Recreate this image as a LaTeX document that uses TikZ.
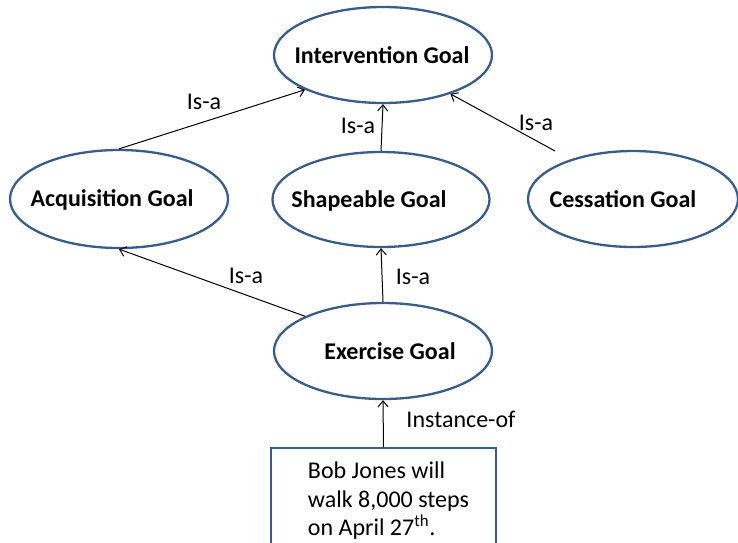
\documentclass[tikz,border=0pt]{standalone}
\usepackage{fontspec}
\setmainfont{Carlito}
\usetikzlibrary{shapes.geometric,arrows.meta}
\definecolor{edgeblue}{RGB}{56,93,138}
\newcommand{\etext}[3]{\makebox[0pt]{\hspace*{#1}\hspace*{#1}\raisebox{-#2}[0pt][0pt]{#3}}}
\tikzset{
  goal/.style={ellipse, draw=edgeblue, line width=2.3pt, inner sep=0pt,
    minimum width=218pt, minimum height=96pt, font=\fontsize{24}{28.5}\selectfont\bfseries},
  infobox/.style={rectangle, draw=edgeblue, line width=2.3pt, align=left,
    minimum width=225pt, inner ysep=14pt, font=\fontsize{24}{28.5}\selectfont},
  conn/.style={draw=black, line width=1pt, -{Straight Barb[length=6pt,width=10pt]}},
  lbl/.style={anchor=base, inner sep=0pt, font=\fontsize{24}{28.5}\selectfont}
}
\begin{document}
\begin{tikzpicture}[x=1pt,y=-1pt]
\useasboundingbox (0,0) rectangle (738,542);
\clip (0,0) rectangle (738,542);
\node[goal] (int) at (383,55) {\etext{-1pt}{8pt}{Intervention Goal}};
\node[goal, minimum height=98pt] (acq) at (119,199) {\etext{-7pt}{7pt}{Acquisition Goal}};
\node[goal, minimum width=217pt, minimum height=95pt] (sha) at (381,199.5) {\etext{-12pt}{7.5pt}{Shapeable Goal}};
\node[goal, minimum width=210pt] (ces) at (633,199) {\etext{-10pt}{8pt}{Cessation Goal}};
\node[goal] (ex) at (383,351) {\etext{7pt}{8pt}{Exercise Goal}};
\node[infobox, anchor=north] (box) at (383.5,447) {\hspace*{10pt}Bob Jones will\\\hspace*{10pt}walk 8,000 steps\\\hspace*{10pt}on April 27\textsuperscript{th}.};
\coordinate (cstart) at (555,151);
\draw[conn] (acq.north) -- (int.204.7);
\draw[conn] (sha.north) -- (int.south);
\draw[conn] (cstart) -- (int.330.5);
\draw[conn] (ex.156.5) -- (acq.south);
\draw[conn] (ex.north) -- (sha.south);
\draw[conn] (box.north) -- (ex.south);
\node[lbl] (l1) at (204,109) {Is-a};
\node[lbl] (l2) at (358,133) {Is-a};
\node[lbl] (l3) at (536,130) {Is-a};
\node[lbl] (l4) at (246,283) {Is-a};
\node[lbl] (l5) at (413,284) {Is-a};
\node[lbl] (l6) at (461,427) {Instance-of};
\end{tikzpicture}
\end{document}
